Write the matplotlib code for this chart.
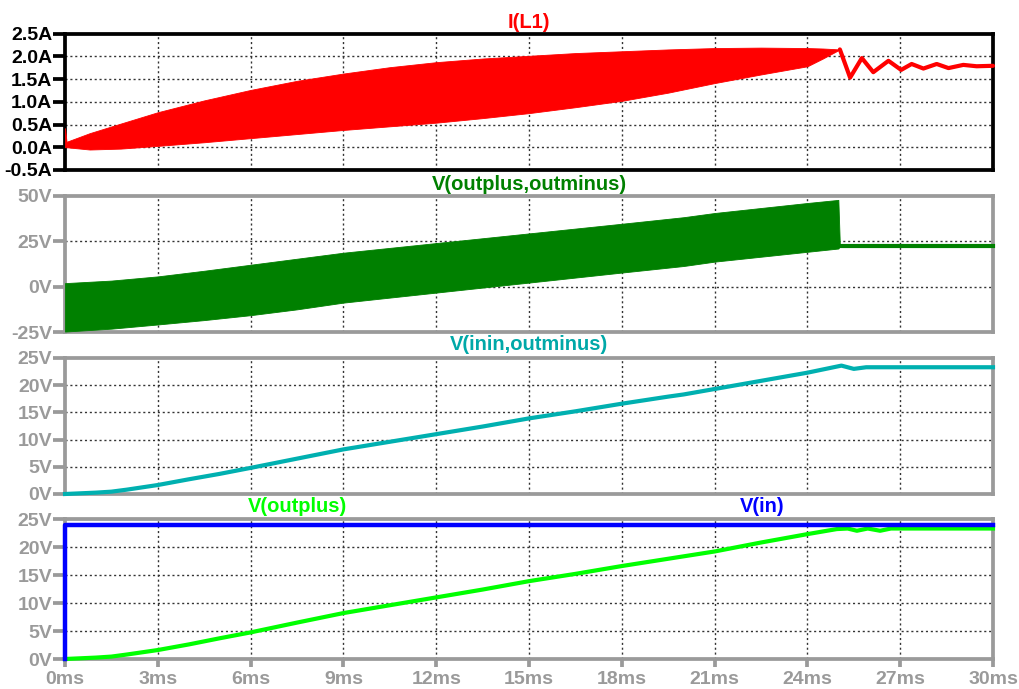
import matplotlib
matplotlib.use("Agg")
import matplotlib.pyplot as plt
from matplotlib.ticker import FixedLocator

# ---------------- data ----------------
# I(L1): envelope of the switching ripple during the ramp, then damped ring-down
il_env_t = [0.0, 0.05, 0.8, 1.8, 3.0, 4.5, 6.0, 7.5, 9.0, 10.5, 12.0, 13.5, 15.0,
            16.5, 18.0, 19.5, 21.0, 22.5, 24.0, 24.5, 25.05]
il_upper = [0.42, 0.12, 0.31, 0.52, 0.77, 1.03, 1.26, 1.46, 1.62, 1.76, 1.87, 1.95, 2.01,
            2.07, 2.11, 2.15, 2.18, 2.19, 2.18, 2.17, 2.15]
il_lower = [0.0, 0.0, -0.05, -0.03, 0.03, 0.11, 0.20, 0.29, 0.38, 0.46, 0.54, 0.64, 0.75,
            0.88, 1.02, 1.20, 1.41, 1.60, 1.78, 1.95, 2.15]
il_tail_t = [25.05, 25.38, 25.76, 26.13, 26.62, 27.03, 27.37, 27.75, 28.18, 28.56, 29.04, 29.47, 30.0]
il_tail = [2.15, 1.53, 1.96, 1.65, 1.90, 1.70, 1.83, 1.73, 1.83, 1.74, 1.81, 1.78, 1.79]

# V(outplus,outminus): ripple envelope, then settled output
vo_env_t = [0.0, 1.5, 3.0, 4.5, 6.0, 7.5, 9.0, 12.0, 15.0, 18.0, 20.0, 21.0, 24.0, 25.0, 25.05]
vo_upper = [2.0, 3.4, 5.7, 8.8, 12.1, 15.4, 18.7, 24.0, 29.3, 34.6, 38.2, 40.5, 46.0, 47.7, 22.3]
vo_lower = [-24.6, -23.0, -20.7, -18.3, -15.6, -12.4, -8.7, -3.2, 2.3, 7.8, 11.4, 13.8, 19.2, 21.0, 22.3]
vo_tail_t = [25.05, 30.0]
vo_tail = [22.3, 22.3]

# V(inin,outminus)
vi_t = [0.0, 1.0, 1.5, 2.0, 3.0, 4.0, 5.0, 6.0, 7.5, 9.0, 10.5, 12.0, 13.5, 15.0, 16.5,
        18.0, 19.5, 20.0, 21.0, 22.5, 24.0, 25.1, 25.5, 25.9, 30.0]
vi_v = [0.0, 0.25, 0.43, 0.8, 1.65, 2.7, 3.7, 4.8, 6.5, 8.2, 9.6, 11.0, 12.4, 13.9, 15.2,
        16.6, 17.9, 18.3, 19.3, 20.8, 22.3, 23.6, 23.0, 23.3, 23.3]

# V(outplus)
vp_t = [0.0, 1.0, 1.5, 2.0, 3.0, 4.0, 5.0, 6.0, 7.5, 9.0, 10.5, 12.0, 13.5, 15.0, 16.5,
        18.0, 19.5, 21.0, 22.5, 24.0, 24.95, 25.3, 25.6, 25.95, 26.35, 26.7, 30.0]
vp_v = [0.0, 0.25, 0.43, 0.8, 1.6, 2.6, 3.7, 4.75, 6.5, 8.2, 9.6, 11.0, 12.4, 13.9, 15.2,
        16.6, 17.9, 19.2, 20.8, 22.3, 23.2, 23.3, 22.9, 23.3, 22.9, 23.3, 23.3]

# V(in): step to 24 V at t = 0
vin_t = [0.0, 0.0, 30.0]
vin_v = [0.0, 24.0, 24.0]

# axis ticks
x_ticks = [0, 3, 6, 9, 12, 15, 18, 21, 24, 27, 30]
x_labels = [f"{v}ms" for v in x_ticks]
il_ticks = [-0.5, 0.0, 0.5, 1.0, 1.5, 2.0, 2.5]
il_labels = [f"{v:.1f}A" for v in il_ticks]
vo_ticks = [-25, 0, 25, 50]
vo_labels = [f"{v}V" for v in vo_ticks]
v25_ticks = [0, 5, 10, 15, 20, 25]
v25_labels = [f"{v}V" for v in v25_ticks]

# ---------------- styling ----------------
plt.rcParams["font.family"] = ["Liberation Sans", "DejaVu Sans"]
plt.rcParams["font.weight"] = "bold"

W, H = 1020, 689
fig = plt.figure(figsize=(W / 100, H / 100), dpi=100)
fig.patch.set_facecolor("white")

GRAY = "#9a9a9a"
FS = 14
x0, x1 = 65, 993


def make_axes(top, bottom):
    return fig.add_axes([x0 / W, 1 - bottom / H, (x1 - x0) / W, (bottom - top) / H])


def style(ax, ylim, yticks, ylabels, frame_color, label_color, show_x=False):
    ax.set_xlim(0, 30)
    ax.set_ylim(*ylim)
    for s in ax.spines.values():
        s.set_color(frame_color)
        s.set_linewidth(2.7)
        s.set_zorder(1.5)
    ax.yaxis.set_major_locator(FixedLocator(yticks))
    ax.set_yticklabels(ylabels, fontsize=FS, fontweight="bold", color=label_color)
    ax.tick_params(axis="y", length=9, width=2.7, color=frame_color, pad=0)
    ax.xaxis.set_major_locator(FixedLocator(x_ticks))
    if show_x:
        ax.set_xticklabels(x_labels, fontsize=FS, fontweight="bold", color=GRAY)
        ax.tick_params(axis="x", length=6, width=2.7, color=GRAY, pad=3)
    else:
        ax.tick_params(axis="x", bottom=False, labelbottom=False)
    # dotted grid, skipping lines that sit on the frame
    for xv in x_ticks[1:-1]:
        ax.axvline(xv, color="#333333", lw=1.0, ls=(0, (1.5, 2.0)), zorder=1)
    for yv in yticks[1:-1]:
        ax.axhline(yv, color="#333333", lw=1.0, ls=(0, (1.5, 2.0)), zorder=1)


# ---- pane 1: I(L1)
ax1 = make_axes(33.5, 170)
style(ax1, (-0.5, 2.5), il_ticks, il_labels, "black", "black")
ax1.fill_between(il_env_t, il_lower, il_upper, color="#ff0000", lw=0.6, zorder=3, clip_on=False)
ax1.plot(il_tail_t, il_tail, color="#ff0000", lw=3.0, zorder=3, clip_on=False,
         solid_joinstyle="round", solid_capstyle="round")

# ---- pane 2: V(outplus,outminus)
ax2 = make_axes(195.7, 332.3)
style(ax2, (-25, 50), vo_ticks, vo_labels, GRAY, GRAY)
ax2.fill_between(vo_env_t, vo_lower, vo_upper, color="#008000", lw=0.6, zorder=3, clip_on=False)
ax2.plot(vo_tail_t, vo_tail, color="#008000", lw=3.0, zorder=3, clip_on=False)

# ---- pane 3: V(inin,outminus)
ax3 = make_axes(358, 494)
style(ax3, (0, 25), v25_ticks, v25_labels, GRAY, GRAY)
ax3.plot(vi_t, vi_v, color="#00b0b0", lw=3.0, zorder=3, clip_on=False, solid_joinstyle="round")

# ---- pane 4: V(outplus) and V(in)
ax4 = make_axes(519, 659)
style(ax4, (0, 25), v25_ticks, v25_labels, GRAY, GRAY, show_x=True)
ax4.plot(vp_t, vp_v, color="#00ff00", lw=3.0, zorder=3, clip_on=False, solid_joinstyle="round")
ax4.plot(vin_t, vin_v, color="#0000ff", lw=3.2, zorder=4, clip_on=False)

# trace names
def label(x, y, txt, color):
    fig.text(x / W, 1 - y / H, txt, ha="center", va="center", fontsize=FS + 0.5,
             fontweight="bold", color=color)


label(529, 22, "I(L1)", "#ff0000")
label(529, 184, "V(outplus,outminus)", "#008000")
label(529, 345, "V(inin,outminus)", "#00a8a8")
label(297, 507, "V(outplus)", "#00ff00")
label(762, 507, "V(in)", "#0000ff")

fig.savefig("out.png", dpi=100, facecolor="white")
